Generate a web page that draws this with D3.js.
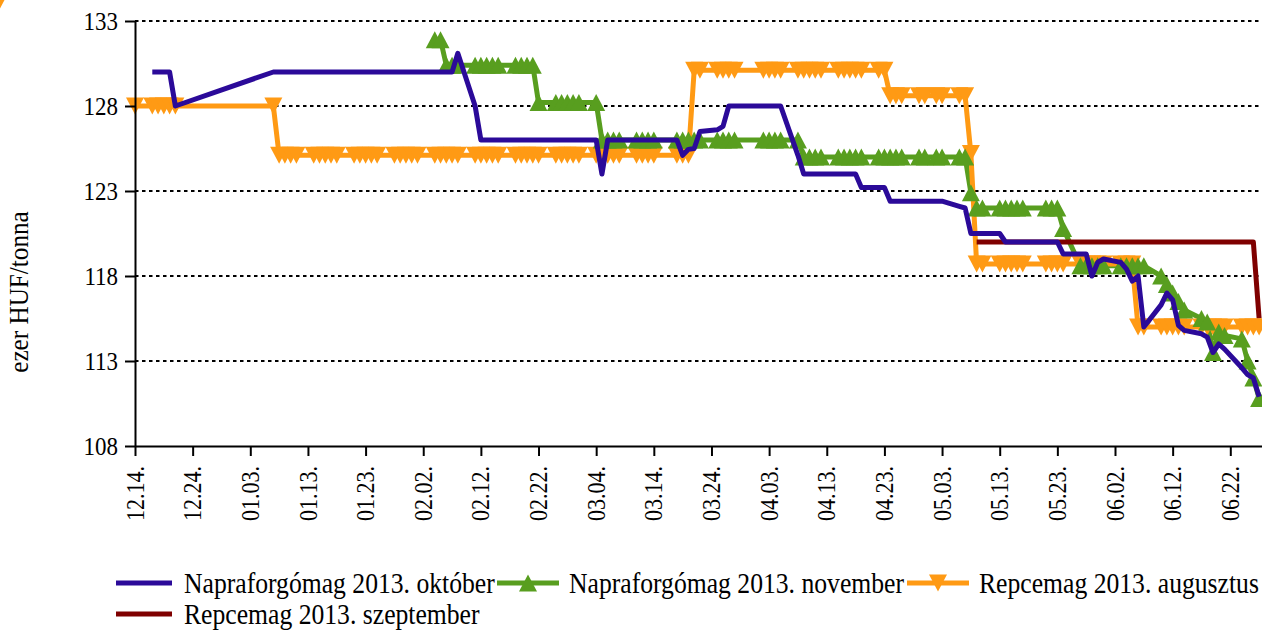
<!DOCTYPE html>
<html>
<head>
<meta charset="utf-8">
<script src="https://cdn.jsdelivr.net/npm/d3@7"></script>
<style>
body { margin: 0; background: #ffffff; }
svg { display: block; }
.label { font-family: "Liberation Serif", "Times New Roman", serif; fill: #000000; }
</style>
</head>
<body>
<svg id="chart" width="1262" height="630"></svg>
<script>
// Trading days shown on the chart (holidays and weekends are missing)
var tradingDays = [
    "2012-12-14","2012-12-17","2012-12-18","2012-12-19","2012-12-20","2012-12-21",
    "2013-01-07","2013-01-08","2013-01-09","2013-01-10","2013-01-11","2013-01-14","2013-01-15","2013-01-16","2013-01-17","2013-01-18","2013-01-21","2013-01-22","2013-01-23","2013-01-24","2013-01-25","2013-01-28","2013-01-29","2013-01-30","2013-01-31",
    "2013-02-01","2013-02-04","2013-02-05","2013-02-06","2013-02-07","2013-02-08","2013-02-11","2013-02-12","2013-02-13","2013-02-14","2013-02-15","2013-02-18","2013-02-19","2013-02-20","2013-02-21","2013-02-22","2013-02-25","2013-02-26","2013-02-27","2013-02-28",
    "2013-03-01","2013-03-04","2013-03-05","2013-03-06","2013-03-07","2013-03-08","2013-03-11","2013-03-12","2013-03-13","2013-03-14","2013-03-18","2013-03-19","2013-03-20","2013-03-21","2013-03-22","2013-03-25","2013-03-26","2013-03-27","2013-03-28",
    "2013-04-02","2013-04-03","2013-04-04","2013-04-05","2013-04-08","2013-04-09","2013-04-10","2013-04-11","2013-04-12","2013-04-15","2013-04-16","2013-04-17","2013-04-18","2013-04-19","2013-04-22","2013-04-23","2013-04-24","2013-04-25","2013-04-26","2013-04-29","2013-04-30",
    "2013-05-02","2013-05-03","2013-05-06","2013-05-07","2013-05-08","2013-05-09","2013-05-10","2013-05-13","2013-05-14","2013-05-15","2013-05-16","2013-05-17","2013-05-21","2013-05-22","2013-05-23","2013-05-24","2013-05-27","2013-05-28","2013-05-29","2013-05-30","2013-05-31",
    "2013-06-03","2013-06-04","2013-06-05","2013-06-06","2013-06-07","2013-06-10","2013-06-11","2013-06-12","2013-06-13","2013-06-14","2013-06-17","2013-06-18","2013-06-19","2013-06-20","2013-06-21","2013-06-24","2013-06-25","2013-06-26","2013-06-27"
];

// Napraforgómag 2013. október
var octoberValues = [
    null,130,130,130,130,128,
    130,130,130,130,130,130,130,130,130,130,130,130,130,130,130,130,130,130,130,
    130,130,130,130,130,131.1,128,126,126,126,126,126,126,126,126,126,126,126,126,126,
    126,126,124,126,126,126,126,126,126,126,126,125.1,125.45,125.5,126.5,126.6,126.8,128,128,
    128,128,128,128,125.1,124,124,124,124,124,124,124,124,123.2,123.2,123.2,122.4,122.4,122.4,122.4,122.4,
    122.4,122.4,122.1,122,120.5,120.5,120.5,120.5,120,120,120,120,120,120,120,119.3,119.3,119.3,118,118.8,119,
    118.8,118.4,117.7,118,115,116.3,117,116.6,115.1,114.8,114.6,114.4,113.5,114,113.7,112.6,112.2,112,110.9
];

// Napraforgómag 2013. november
var novemberValues = [
    null,null,null,null,null,null,
    null,null,null,null,null,null,null,null,null,null,null,null,null,null,null,null,null,null,null,
    null,131.9,131.9,130.4,130.4,130.4,130.4,130.4,130.4,130.4,130.4,130.4,130.4,130.4,130.4,128.2,128.2,128.2,128.2,128.2,
    128.2,128.2,126,126,126,126,126,126,126,126,126,126,126,126,126,126,126,126,126,
    126,126,126,126,126,125,125,125,125,125,125,125,125,125,125,125,125,125,125,125,125,
    125,125,125,125,122.9,122,122,122,122,122,122,122,122,122,122,120.8,118.6,118.6,118.6,118.6,118.6,
    118.6,118.6,118.6,118.6,118.6,118,117.5,117,116.5,116,115.5,115.3,113.5,114.7,114.5,114.3,113,112,110.8
];

// Repcemag 2013. augusztus
var augustValues = [
    128,128,128,128,128,128,
    128,125.1,125.1,125.1,125.1,125.1,125.1,125.1,125.1,125.1,125.1,125.1,125.1,125.1,125.1,125.1,125.1,125.1,125.1,
    125.1,125.1,125.1,125.1,125.1,125.1,125.1,125.1,125.1,125.1,125.1,125.1,125.1,125.1,125.1,125.1,125.1,125.1,125.1,125.1,
    125.1,125.1,125.1,125.1,125.1,125.1,125.1,125.1,125.1,125.1,125.1,125.1,125.1,130.1,130.1,130.1,130.1,130.1,130.1,
    130.1,130.1,130.1,130.1,130.1,130.1,130.1,130.1,130.1,130.1,130.1,130.1,130.1,130.1,130.1,130.1,128.6,128.6,128.6,128.6,128.6,
    128.6,128.6,128.6,128.6,125.2,118.7,118.7,118.7,118.7,118.7,118.7,118.7,118.7,118.7,118.7,118.7,118.7,118.7,118.7,118.7,118.7,
    118.7,118.7,118.7,115,115,115,115,115,115,115,115,115,115,115,115,115,115,115,115,113.3
];

// Repcemag 2013. szeptember
var septemberValues = [
    null,null,null,null,null,null,
    null,null,null,null,null,null,null,null,null,null,null,null,null,null,null,null,null,null,null,
    null,null,null,null,null,null,null,null,null,null,null,null,null,null,null,null,null,null,null,null,
    null,null,null,null,null,null,null,null,null,null,null,null,null,null,null,null,null,null,null,
    null,null,null,null,null,null,null,null,null,null,null,null,null,null,null,null,null,null,null,null,null,
    null,null,null,null,null,120,120,120,120,120,120,120,120,120,120,120,120,120,120,120,120,
    120,120,120,120,120,120,120,120,120,120,120,120,120,120,120,120,120,120,115.5
];

var tickDays = [
    "2012-12-14","2012-12-24","2013-01-03","2013-01-13","2013-01-23","2013-02-02","2013-02-12",
    "2013-02-22","2013-03-04","2013-03-14","2013-03-24","2013-04-03","2013-04-13","2013-04-23",
    "2013-05-03","2013-05-13","2013-05-23","2013-06-02","2013-06-12","2013-06-22"
];
var yTicks = [108, 113, 118, 123, 128, 133];

var seriesNames = [
    "Napraforgómag 2013. október",
    "Napraforgómag 2013. november",
    "Repcemag 2013. augusztus",
    "Repcemag 2013. szeptember"
];

var parseDay = d3.utcParse("%Y-%m-%d");
var formatDay = d3.utcFormat("%m.%d.");
var dates = tradingDays.map(parseDay);
var tickDates = tickDays.map(parseDay);

var options = {
    left: 135, right: 1262, top: 21, bottom: 446,
    lineWidth: 5,
    markerW: 18, markerH: 17,
    tickSize: 10,
    textSqueeze: 0.9,
    colors: ["#2b0a99", "#589e1f", "#ff9a14", "#7f0000"]
};

var svg = d3.select("#chart");

var x = d3.scaleUtc()
    .domain([parseDay("2012-12-14"), d3.utcHour.offset(parseDay("2013-06-27"), 12)])
    .range([options.left, options.right]);

var y = d3.scaleLinear()
    .domain([108, 133])
    .range([options.bottom, options.top]);

// Gridlines
svg.append("g")
    .selectAll("line")
    .data(yTicks.slice(1))
    .enter()
    .append("line")
    .attr("x1", options.left)
    .attr("x2", options.right)
    .attr("y1", function(d) { return y(d); })
    .attr("y2", function(d) { return y(d); })
    .style("stroke", "black")
    .style("stroke-width", 2)
    .style("stroke-dasharray", "3.5,3.5");

function seriesPoints(values)
{
    var points = [];
    for (var i = 0; i < values.length; i++)
    {
        if (values[i] != null)
            points.push({ date: dates[i], value: values[i] });
    }
    return points;
}

var line = d3.line()
    .x(function(d) { return x(d.date); })
    .y(function(d) { return y(d.value); });

function drawLine(values, color)
{
    svg.append("path")
        .datum(seriesPoints(values))
        .attr("d", line)
        .attr("fill", "none")
        .attr("stroke", color)
        .attr("stroke-width", options.lineWidth)
        .attr("stroke-linejoin", "round");
}

function trianglePath(up)
{
    var w = options.markerW / 2;
    var h = options.markerH / 2;
    return up
        ? "M0," + (-h) + "L" + w + "," + h + "L" + (-w) + "," + h + "Z"
        : "M0," + h + "L" + w + "," + (-h) + "L" + (-w) + "," + (-h) + "Z";
}

function drawMarkers(values, color, up)
{
    svg.append("g")
        .selectAll("path")
        .data(seriesPoints(values))
        .enter()
        .append("path")
        .attr("d", trianglePath(up))
        .attr("transform", function(d) { return "translate(" + x(d.date) + "," + y(d.value) + ")"; })
        .style("fill", color);
}

drawLine(novemberValues, options.colors[1]);
drawLine(augustValues, options.colors[2]);
drawLine(septemberValues, options.colors[3]);
drawMarkers(augustValues, options.colors[2], false);
drawMarkers(novemberValues, options.colors[1], true);
drawLine(octoberValues, options.colors[0]);

// Axes (lines and ticks from d3, labels drawn below)
svg.append("g")
    .attr("transform", "translate(0," + options.bottom + ")")
    .call(d3.axisBottom(x).tickValues(tickDates).tickFormat("").tickSize(options.tickSize).tickSizeOuter(0));

svg.append("g")
    .attr("transform", "translate(" + options.left + ",0)")
    .call(d3.axisLeft(y).tickValues(yTicks).tickFormat("").tickSize(options.tickSize).tickSizeOuter(0));

svg.selectAll(".domain, .tick line")
    .style("stroke", "black")
    .style("stroke-width", 2);

// the original font is a little narrower than Liberation Serif
function squeezed(tx, ty, rotate)
{
    return "translate(" + tx + "," + ty + ")" + (rotate ? " rotate(-90)" : "") + " scale(" + options.textSqueeze + ",1)";
}

svg.append("g")
    .selectAll("text")
    .data(tickDates)
    .enter()
    .append("text")
    .attr("class", "label")
    .attr("transform", function(d) { return squeezed(x(d), options.bottom + 20, true); })
    .attr("dy", "0.35em")
    .attr("text-anchor", "end")
    .style("font-size", "24.5px")
    .text(function(d) { return formatDay(d); });

svg.append("g")
    .selectAll("text")
    .data(yTicks)
    .enter()
    .append("text")
    .attr("class", "label")
    .attr("transform", function(d) { return squeezed(options.left - options.tickSize - 7, y(d), false); })
    .attr("dy", "0.35em")
    .attr("text-anchor", "end")
    .style("font-size", "25.5px")
    .text(function(d) { return d; });

// Axis title
svg.append("text")
    .attr("class", "label")
    .attr("transform", squeezed(28, 292, true))
    .attr("text-anchor", "middle")
    .style("font-size", "28px")
    .text("ezer HUF/tonna");

// Legend
var legendItems = [
    { x: 116, y: 583, marker: null, color: options.colors[0], label: seriesNames[0] },
    { x: 497, y: 583, marker: "up", color: options.colors[1], label: seriesNames[1] },
    { x: 907, y: 583, marker: "down", color: options.colors[2], label: seriesNames[2] },
    { x: 116, y: 614, marker: null, color: options.colors[3], label: seriesNames[3] }
];

for (var i = 0; i < legendItems.length; i++)
{
    var item = legendItems[i];
    var sampleWidth = item.marker ? 62 : 56;

    svg.append("line")
        .attr("x1", item.x)
        .attr("x2", item.x + sampleWidth)
        .attr("y1", item.y)
        .attr("y2", item.y)
        .style("stroke", item.color)
        .style("stroke-width", options.lineWidth);

    if (item.marker)
    {
        svg.append("path")
            .attr("d", trianglePath(item.marker == "up"))
            .attr("transform", "translate(" + (item.x + sampleWidth / 2) + "," + item.y + ")")
            .style("fill", item.color);
    }

    svg.append("text")
        .attr("class", "label")
        .attr("transform", squeezed(item.x + sampleWidth + (item.marker ? 10 : 12), item.y + 10, false))
        .style("font-size", "28.5px")
        .text(item.label);
}
</script>
</body>
</html>
